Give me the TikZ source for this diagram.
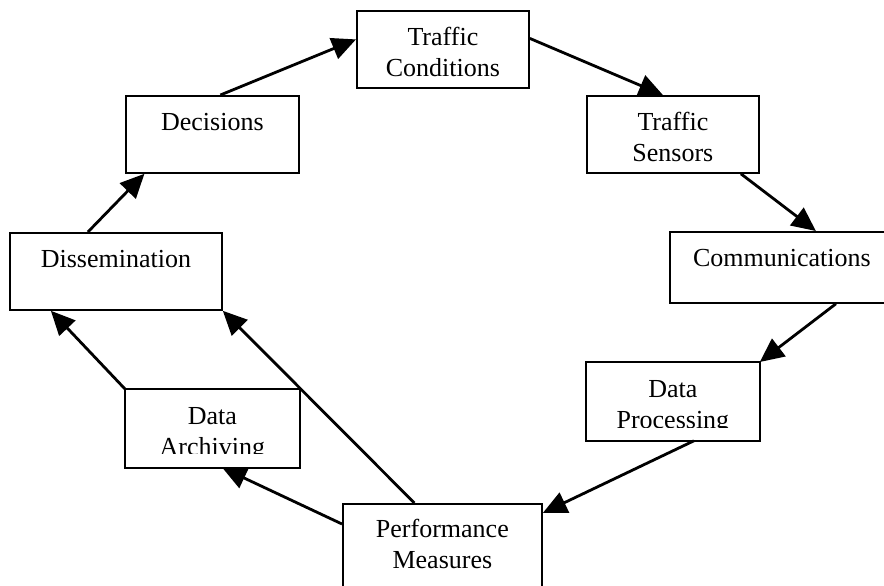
\documentclass[tikz,border=0pt]{standalone}
\usepackage{fontspec}
\setmainfont{Liberation Serif}
\usetikzlibrary{arrows.meta}

\begin{document}
\begin{tikzpicture}[
  x=1pt, y=-1pt,
  box/.style={
    rectangle,
    draw=black,
    line width=1.8pt,
    fill=white,
    inner sep=0pt,
    anchor=north west,
    font=\fontsize{26}{31}\selectfont
  },
  line/.style={
    line width=2.8pt,
    draw=black,
    -{Triangle[length=24pt,width=22pt]}
  }
]
\useasboundingbox (0,0) rectangle (884,586);

% Top of the cycle
\node[box] (cond) at (356,10) {\parbox[c][77pt][t]{172pt}{\centering\rule{0pt}{35pt}Traffic\\Conditions}};
\node[box] (sens) at (586,95) {\parbox[c][77pt][t]{172pt}{\centering\rule{0pt}{35pt}Traffic\\Sensors}};
\node[box] (comm) at (669,231) {\parbox[c][71pt][t]{224pt}{\centering\rule{0pt}{35pt}Communications}};

% Data Processing (second line cut by the frame)
\begin{scope}
  \clip (586,362) rectangle (758,427);
  \node[box, draw=none] (proc) at (586,362) {\parbox[c][77pt][t]{172pt}{\centering\rule{0pt}{35pt}Data\\Processing}};
\end{scope}
\draw[line width=1.8pt] (proc.north west) rectangle (proc.south east);

% Bottom
\node[box] (perf) at (342,503) {\parbox[c][95pt][t]{199pt}{\centering\rule{0pt}{34pt}Performance\\Measures}};

% Data Archiving (second line cut by the frame)
\begin{scope}
  \clip (125,389) rectangle (298,453);
  \node[box, draw=none] (arch) at (125,389) {\parbox[c][77pt][t]{173pt}{\centering\rule{0pt}{35pt}Data\\Archiving}};
\end{scope}
\draw[line width=1.8pt] (arch.north west) rectangle (arch.south east);

% Left side
\node[box] (diss) at (9,232) {\parbox[c][77pt][t]{212pt}{\centering\rule{0pt}{35pt}Dissemination}};
\node[box] (dec) at (125,95) {\parbox[c][77pt][t]{173pt}{\centering\rule{0pt}{35pt}Decisions}};

% Connectors
\draw[line] ([xshift=8pt]dec.north) -- ([yshift=10pt]cond.west);
\draw[line] ([yshift=11pt]cond.east) -- ([xshift=-10pt]sens.north);
\draw[line] ([xshift=68pt]sens.south) -- ([xshift=34pt]comm.north);
\draw[line] ([xshift=54pt]comm.south) -- (proc.north east);
\draw[line] ([xshift=21pt]proc.south) -- ([yshift=-10pt]perf.north east);
\draw[line] ([yshift=-21pt]perf.north west) -- ([xshift=10pt]arch.south);
\draw[line] ([xshift=-28pt]perf.north) -- (diss.south east);
\draw[line] (arch.north west) -- ([xshift=-65pt]diss.south);
\draw[line] ([xshift=-28pt]diss.north) -- ([xshift=-68pt]dec.south);

\end{tikzpicture}
\end{document}
